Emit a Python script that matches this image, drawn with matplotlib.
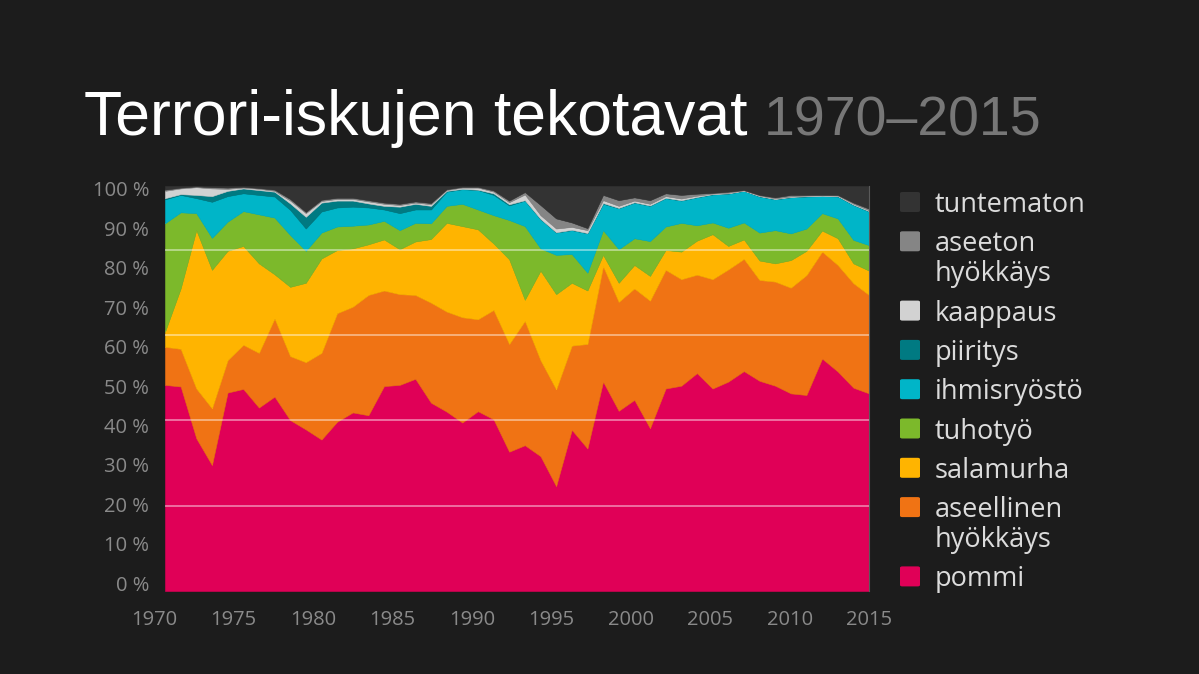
import matplotlib
matplotlib.use("Agg")
import matplotlib.pyplot as plt
from matplotlib import font_manager as fm
from matplotlib.patches import FancyBboxPatch
from matplotlib.transforms import blended_transform_factory
import numpy as np

# ---------------- data (percent of attacks per year) ----------------
years = list(range(1970, 2016))

pommi = [50.9, 50.5, 37.7, 31.1, 49.0, 49.9, 45.3, 48.0, 42.2, 39.9,
         37.4, 41.8, 44.1, 43.4, 50.6, 50.9, 52.4, 46.5, 44.3, 41.6,
         44.4, 42.4, 34.4, 36.0, 33.3, 25.9, 39.8, 35.2, 51.7, 44.5,
         47.2, 40.2, 50.0, 50.7, 53.8, 50.0, 51.7, 54.3, 51.9, 50.7,
         48.8, 48.4, 57.4, 54.2, 50.2, 48.8]
aseellinen = [9.4, 9.3, 12.3, 14.0, 8.0, 10.9, 13.5, 19.3, 15.8, 16.6,
              21.4, 26.8, 26.1, 29.7, 23.6, 22.4, 20.7, 24.7, 24.7, 26.0,
              22.7, 27.0, 26.6, 30.7, 23.7, 23.9, 20.8, 25.8, 28.5, 26.9,
              27.5, 31.5, 29.3, 26.3, 24.3, 27.0, 27.7, 27.7, 24.9, 25.7,
              26.1, 29.6, 26.4, 26.3, 25.8, 24.3]
salamurha = [3.7, 14.9, 39.1, 34.2, 27.0, 24.4, 22.1, 10.9, 17.1, 19.6,
             23.3, 15.6, 14.4, 12.5, 12.6, 11.1, 13.2, 15.7, 21.9, 22.5,
             22.2, 16.4, 20.9, 5.2, 22.1, 23.5, 15.5, 13.2, 2.8, 4.7,
             5.8, 6.1, 4.9, 6.8, 8.4, 11.1, 5.8, 4.8, 4.8, 4.5,
             6.8, 6.0, 5.2, 6.6, 4.9, 6.0]
tuhotyo = [26.8, 18.8, 4.2, 7.9, 7.2, 8.6, 12.1, 14.0, 12.8, 7.9,
           6.4, 5.8, 5.6, 4.9, 4.6, 4.7, 4.6, 3.9, 4.2, 5.5,
           4.9, 7.0, 9.7, 18.2, 5.5, 9.7, 7.1, 4.4, 6.1, 8.3,
           6.6, 8.6, 5.8, 7.1, 3.8, 2.9, 4.5, 4.2, 6.9, 8.2,
           6.6, 5.5, 4.3, 4.9, 5.8, 6.3]
ihmisryosto = [5.9, 4.3, 3.7, 8.9, 6.3, 4.4, 4.8, 5.2, 6.2, 5.5,
               5.2, 4.7, 4.7, 4.2, 2.8, 4.2, 3.3, 3.4, 3.5, 3.6,
               4.8, 5.0, 3.6, 6.3, 7.2, 5.5, 5.9, 9.7, 6.5, 10.1,
               8.8, 8.7, 7.0, 5.5, 6.9, 6.9, 8.4, 7.8, 8.9, 7.6,
               8.9, 7.9, 4.2, 5.4, 8.6, 8.3]
piiritys = [0.3, 0.2, 0.8, 1.4, 1.3, 1.2, 1.2, 1.2, 1.6, 2.9,
            2.2, 1.7, 1.5, 1.0, 0.9, 1.6, 1.4, 0.9, 0.2, 0.1,
            0.1, 0.4, 0.3, 0.1, 0.1, 0.1, 0.1, 0.1, 0.2, 0.1,
            0.1, 0.1, 0.1, 0.1, 0.1, 0.1, 0.1, 0.05, 0.1, 0.1,
            0.1, 0.1, 0.1, 0.1, 0.1, 0.1]
kaappaus = [1.8, 1.4, 1.9, 1.9, 0.5, 0.2, 0.3, 0.2, 0.7, 0.9,
            0.4, 0.4, 0.4, 0.5, 0.5, 0.4, 0.3, 0.4, 0.2, 0.3,
            0.5, 0.4, 0.5, 1.4, 0.9, 0.9, 0.7, 0.7, 0.7, 0.5,
            0.4, 0.4, 0.4, 0.4, 0.3, 0.1, 0.1, 0.05, 0.1, 0.1,
            0.1, 0.1, 0.1, 0.1, 0.2, 0.2]
aseeton = [0.3, 0.2, 0.2, 0.3, 0.3, 0.2, 0.2, 0.3, 0.4, 0.3,
           0.3, 0.3, 0.3, 0.3, 0.3, 0.3, 0.3, 0.3, 0.2, 0.2,
           0.2, 0.3, 0.4, 0.6, 2.5, 2.5, 1.1, 0.5, 1.3, 1.4,
           0.8, 0.9, 0.7, 0.9, 0.5, 0.2, 0.3, 0.1, 0.2, 0.3,
           0.4, 0.2, 0.1, 0.2, 0.3, 0.4]
tuntematon = [0.9, 0.4, 0.1, 0.3, 0.4, 0.2, 0.5, 0.9, 3.2, 6.4,
              3.4, 2.9, 2.9, 3.5, 4.1, 4.4, 3.8, 4.2, 0.8, 0.2,
              0.2, 1.1, 3.6, 1.5, 4.7, 8.0, 9.0, 10.4, 2.2, 3.5,
              2.8, 3.5, 1.8, 2.2, 1.9, 1.7, 1.4, 1.0, 2.2, 2.8,
              2.2, 2.2, 2.2, 2.2, 4.1, 5.6]

series_labels = ["pommi", "aseellinen\nhyökkäys", "salamurha", "tuhotyö",
                 "ihmisryöstö", "piiritys", "kaappaus", "aseeton\nhyökkäys",
                 "tuntematon"]
series_colors = ["#E00057", "#F07314", "#FFB400", "#7CB92B", "#00B5C8",
                 "#007A82", "#D2D2D2", "#858585", "#333333"]

x_tick_years = [1970, 1975, 1980, 1985, 1990, 1995, 2000, 2005, 2010, 2015]
y_tick_values = [0, 10, 20, 30, 40, 50, 60, 70, 80, 90, 100]
grid_values = [20, 40, 60, 80]

title_main = "Terrori-iskujen tekotavat"
title_years = "1970–2015"

# ---------------- fonts ----------------
names = {f.name for f in fm.fontManager.ttflist}
if "Liberation Sans Narrow" in names:
    title_font, title_size, years_size = "Liberation Sans Narrow", 52, 50
else:
    title_font, title_size, years_size = "Liberation Sans", 45, 40
label_font = "Open Sans" if "Open Sans" in names else "DejaVu Sans"

BG = "#1C1C1C"
TICK_C = "#8a8a8a"
W, H = 1199, 674
fig = plt.figure(figsize=(W / 100, H / 100), dpi=100, facecolor=BG)

# plot area in pixels: x 165..869, y 186..591
ax = fig.add_axes([165 / W, (H - 591) / H, (869 - 165) / W, (591 - 186) / H])
ax.set_facecolor(BG)

data = np.array([pommi, aseellinen, salamurha, tuhotyo, ihmisryosto,
                 piiritys, kaappaus, aseeton, tuntematon], dtype=float)
data = data / data.sum(axis=0) * 100.0

polys = ax.stackplot(years, data, colors=series_colors, linewidth=0.4)
for p, c in zip(polys, series_colors):
    p.set_edgecolor(c)

# gridlines (the original's grid sits on a 0..95 scale)
for g in grid_values:
    ax.axhline(g * 100 / 95, color="white", alpha=0.55, lw=1.1, zorder=5)

for s in ["top", "left", "bottom"]:
    ax.spines[s].set_visible(False)
ax.spines["right"].set_color("#5a5a5a")
ax.spines["right"].set_linewidth(0.8)

ax.set_xlim(1970, 2015)
ax.set_ylim(0, 100)
ax.set_xticks([])
ax.set_yticks([1.9 + v * 0.974 for v in y_tick_values])
ax.set_yticklabels([f"{v} %" for v in y_tick_values])
ax.set_ylim(0, 100)
ax.tick_params(axis="both", length=0, colors=TICK_C, labelsize=14.5)
ax.tick_params(axis="y", pad=11.5)
for lab in ax.get_yticklabels():
    lab.set_fontfamily(label_font)

# x labels (offset slightly like the original graphic)
xtr = blended_transform_factory(ax.transData, ax.transAxes)
for yv in x_tick_years:
    ax.text(1969.3 + (yv - 1970) * 1.0157, -29 / 405, str(yv),
            transform=xtr, ha="center", va="center", color=TICK_C,
            fontsize=14.5, family=label_font, clip_on=False)

# title
t1 = fig.text(84 / W, (H - 135) / H, title_main, color="white",
              fontsize=title_size, family=title_font, va="baseline", ha="left")
fig.canvas.draw()
bb = t1.get_window_extent(fig.canvas.get_renderer())
fig.text((bb.x1 + 16) / W, (H - 135) / H, title_years, color="#777777",
         fontsize=years_size, family=title_font, va="baseline", ha="left",
         fontweight="light")

# legend (top to bottom)
y_center = 202.0
for lab, col in list(zip(series_labels, series_colors))[::-1]:
    sq = FancyBboxPatch(((900) / W, (H - y_center - 10) / H), 20 / W, 20 / H,
                        boxstyle="round,pad=0,rounding_size=0.002",
                        transform=fig.transFigure, facecolor=col,
                        edgecolor="none")
    fig.patches.append(sq)
    lines = lab.split("\n")
    for i, line in enumerate(lines):
        fig.text(935 / W, (H - (y_center + 10 + 29.5 * i)) / H, line,
                 color="#DCDCDC", fontsize=19.5, family=label_font,
                 va="baseline", ha="left")
    y_center += 39.3 + 30.0 * (len(lines) - 1)

fig.savefig("out.png", dpi=100, facecolor=BG)
